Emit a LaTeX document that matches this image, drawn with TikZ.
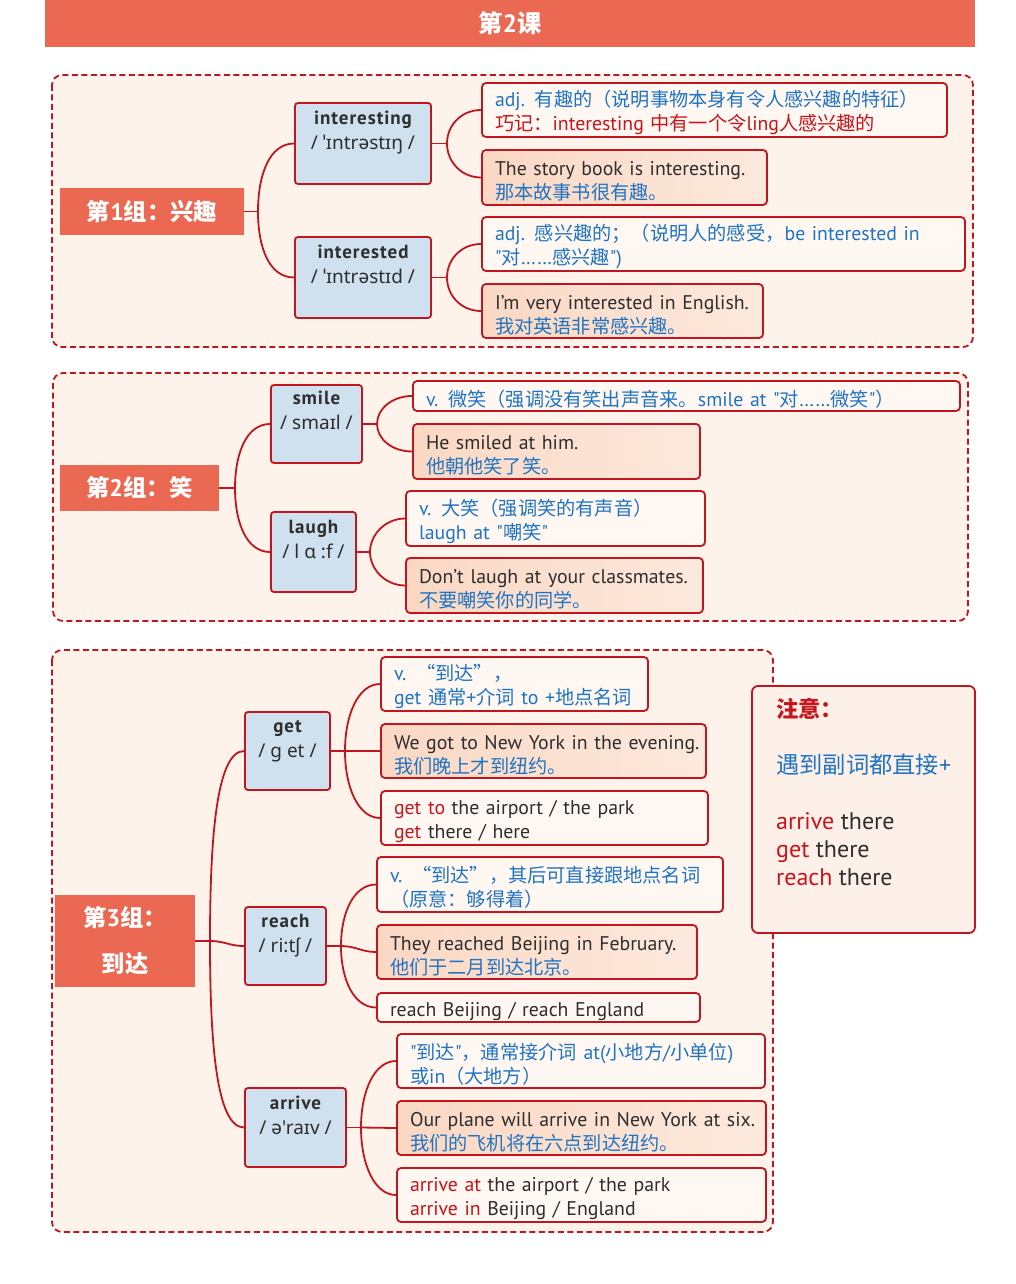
\documentclass[tikz,border=0pt]{standalone}
\usepackage{fontspec}
\setmainfont{PT Sans}
\newfontfamily\latf{PT Sans}
\newfontfamily\latw{PT Sans}[LetterSpace=5]
\newfontfamily\cjkf{Noto Sans CJK SC}[Scale=0.97]
\newfontfamily\ipa{Noto Sans}
\usetikzlibrary{calc}
\newcount\mycc
\newcommand\setcls[2]{\mycc=#1\relax\loop\XeTeXcharclass\mycc=7\relax\advance\mycc by 1\relax\ifnum\mycc<#2\relax\repeat}
\setcls{"4E00}{"A000}
\setcls{"3000}{"3040}
\setcls{"FF00}{"FFF0}
\XeTeXcharclass"201C=7
\XeTeXcharclass"201D=7
\XeTeXinterchartoks 0 7 = {\cjkf}
\XeTeXinterchartoks 4095 7 = {\cjkf}
\XeTeXinterchartoks 7 0 = {\latf}
\XeTeXinterchartoks 4095 0 = {\latf}
\newcommand\ipl[1]{{\XeTeXinterchartokenstate=0 \ipa #1}}
\newcommand\wrd[1]{{\XeTeXinterchartokenstate=0 \latw\bfseries #1}}
\definecolor{bred}{HTML}{C0161F}
\definecolor{tblue}{HTML}{1F74C4}
\definecolor{tred}{HTML}{C8141C}
\definecolor{tdark}{HTML}{2E2E2E}
\definecolor{salmon}{HTML}{EB6852}
\definecolor{cream}{HTML}{FDF3EB}
\definecolor{notefill}{HTML}{FDF0E8}
\definecolor{wfill}{HTML}{CFE0EE}
\definecolor{dfill}{HTML}{FFF7F1}
\definecolor{peachL}{HTML}{FAD8C3}
\definecolor{peachR}{HTML}{FCE9DD}
\newcommand\myred[1]{\textcolor{tred}{#1}}
\newcommand\mydark[1]{\textcolor{tdark}{#1}}
\newcommand\Lx[1]{\mbox{#1}}
\begin{document}
\XeTeXinterchartokenstate=1
\begin{tikzpicture}[x=1pt,y=-1pt,
  grp/.style={draw=bred,line width=1.8pt,dash pattern=on 6pt off 3.5pt,fill=cream,rounded corners=10pt},
  lab/.style={fill=salmon,text=white,font=\fontsize{24}{30}\selectfont\bfseries,inner sep=0pt,align=center},
  wbox/.style={draw=bred,line width=1.8pt,fill=wfill,rounded corners=3pt,inner sep=0pt},
  wtxt/.style={text=tdark,font=\fontsize{19}{25}\selectfont,align=center,inner sep=0pt,anchor=north},
  dbox/.style={draw=bred,line width=1.8pt,fill=dfill,rounded corners=4pt,inner xsep=13pt,inner ysep=0pt,align=left,font=\fontsize{19.8}{24}\selectfont,text=tblue,execute at begin node={\rule{0pt}{22pt}}},
  pbox/.style={dbox,left color=peachL,right color=peachR},
  conn/.style={draw=bred,line width=1.8pt}]
\useasboundingbox (0,0) rectangle (1016,1284);
\fill[white] (0,0) rectangle (1016,1284);

% title
\node[lab,font=\fontsize{25}{30}\selectfont\bfseries,minimum width=930pt,minimum height=47pt] (title) at (510,23.5) {第2课};

% ---------- group 1 ----------
\draw[grp] (52,75) rectangle (973,347);
\node[lab,minimum width=184pt,minimum height=47pt] (lab1) at (152,211.5) {第1组：兴趣};
\node[wbox,minimum width=136pt,minimum height=81pt] (w1) at (363,143.5) {};
\node[wtxt] (w1t) at (363,111) {\wrd{interesting}\\\ipl{/ ˈɪntrəstɪŋ /}};
\node[wbox,minimum width=136pt,minimum height=81pt] (w2) at (363,277.5) {};
\node[wtxt] (w2t) at (363,245) {\wrd{interested}\\\ipl{/ ˈɪntrəstɪd /}};
\node[dbox,text width=439pt,minimum height=54pt] (d1) at (714.5,110) {\Lx{adj. 有趣的（说明事物本身有令人感兴趣的特征）}\\\Lx{\myred{巧记：interesting 中有一个令ling人感兴趣的}}};
\node[pbox,text width=259pt,minimum height=55pt] (d2) at (624.5,177.5) {\Lx{\mydark{The story book is interesting.}}\\\Lx{那本故事书很有趣。}};
\node[dbox,text width=457pt,minimum height=54pt] (d3) at (723.5,244) {\Lx{adj. 感兴趣的；（说明人的感受，be interested in}\\\Lx{"对……感兴趣")}};
\node[pbox,text width=255pt,minimum height=54pt] (d4) at (622.5,311) {\Lx{\mydark{I’m very interested in English.}}\\\Lx{我对英语非常感兴趣。}};
\coordinate (j1) at (258,211.5);
\coordinate (ja) at (447,143.5);
\coordinate (jb) at (447,277.5);
\draw[conn] (lab1.east) -- (j1);
\draw[conn] (j1) .. controls +(0,-36) and +(-25,0) .. (w1.west);
\draw[conn] (j1) .. controls +(0,36) and +(-25,0) .. (w2.west);
\draw[conn] (w1.east) -- (ja);
\draw[conn] (ja) .. controls +(0,-18) and +(-20,0) .. (d1.west);
\draw[conn] (ja) .. controls +(0,18) and +(-20,0) .. (d2.west);
\draw[conn] (w2.east) -- (jb);
\draw[conn] (jb) .. controls +(0,-18) and +(-20,0) .. (d3.west);
\draw[conn] (jb) .. controls +(0,18) and +(-20,0) .. (d4.west);

% ---------- group 2 ----------
\draw[grp] (53,373) rectangle (968,621);
\node[lab,minimum width=159pt,minimum height=46pt] (lab2) at (139.5,488) {第2组：笑};
\node[wbox,minimum width=91pt,minimum height=78pt] (s) at (316.5,424) {};
\node[wtxt] (st) at (316.5,391) {\wrd{smile}\\\ipl{/ smaɪl /}};
\node[wbox,minimum width=85pt,minimum height=80pt] (l) at (313.5,552) {};
\node[wtxt] (lt) at (313.5,520) {\wrd{laugh}\\\ipl{/ l ɑ :f /}};
\node[dbox,text width=521pt,minimum height=30pt] (ds1) at (686.5,396) {\Lx{v. 微笑（强调没有笑出声音来。smile at "对……微笑"）}};
\node[pbox,text width=261pt,minimum height=55pt] (ds2) at (556.5,451.5) {\Lx{\mydark{He smiled at him.}}\\\Lx{他朝他笑了笑。}};
\node[dbox,text width=273pt,minimum height=55pt] (dl1) at (555.5,518.5) {\Lx{v. 大笑（强调笑的有声音）}\\\Lx{laugh at "嘲笑"}};
\node[pbox,text width=271pt,minimum height=55pt] (dl2) at (554.5,585.5) {\Lx{\mydark{Don’t laugh at your classmates.}}\\\Lx{不要嘲笑你的同学。}};
\coordinate (j2) at (235,488);
\coordinate (jc) at (377,424);
\coordinate (jd) at (370,552);
\draw[conn] (lab2.east) -- (j2);
\draw[conn] (j2) .. controls +(0,-34) and +(-24,0) .. (s.west);
\draw[conn] (j2) .. controls +(0,34) and +(-24,0) .. (l.west);
\draw[conn] (s.east) -- (jc);
\draw[conn] (jc) .. controls +(0,-15) and +(-20,0) .. (ds1.west);
\draw[conn] (jc) .. controls +(0,15) and +(-20,0) .. (ds2.west);
\draw[conn] (l.east) -- (jd);
\draw[conn] (jd) .. controls +(0,-17) and +(-20,0) .. (dl1.west);
\draw[conn] (jd) .. controls +(0,17) and +(-20,0) .. (dl2.west);

% ---------- group 3 ----------
\draw[grp] (52,650) rectangle (773,1232);
\node[lab,minimum width=140pt,minimum height=92pt] (lab3) at (125,941) {第3组：\\[16pt]到达};
\node[wbox,minimum width=85pt,minimum height=78pt] (g) at (287.5,751) {};
\node[wtxt] (gt) at (287.5,720) {\wrd{get}\\\ipl{/ ɡ et /}};
\node[wbox,minimum width=81pt,minimum height=78pt] (r) at (285.5,946) {};
\node[wtxt] (rt) at (285.5,914) {\wrd{reach}\\\ipl{/ ri:tʃ /}};
\node[wbox,minimum width=101pt,minimum height=79pt] (a) at (295.5,1127.5) {};
\node[wtxt] (at) at (295.5,1096) {\wrd{arrive}\\\ipl{/ ə'raɪv /}};
\node[dbox,text width=241pt,minimum height=54pt] (dg1) at (514.5,684) {\Lx{v. “到达”，}\\\Lx{get 通常+介词 to +地点名词}};
\node[pbox,text width=299pt,minimum height=54pt] (dg2) at (543.5,751) {\Lx{\mydark{We got to New York in the evening.}}\\\Lx{我们晚上才到纽约。}};
\node[dbox,text width=301pt,minimum height=54pt,text=tdark] (dg3) at (544.5,818) {\Lx{\myred{get to} the airport / the park}\\\Lx{\myred{get} there / here}};
\node[dbox,text width=320pt,minimum height=55pt] (dr1) at (550,884.5) {\Lx{v. “到达”，其后可直接跟地点名词}\\\Lx{（原意：够得着）}};
\node[pbox,text width=294pt,minimum height=54pt] (dr2) at (537,952) {\Lx{\mydark{They reached Beijing in February.}}\\\Lx{他们于二月到达北京。}};
\node[dbox,text width=297pt,minimum height=29pt,text=tdark] (dr3) at (538.5,1007.5) {\Lx{reach Beijing / reach England}};
\node[dbox,text width=342pt,minimum height=54pt] (da1) at (581,1061) {\Lx{"到达"，通常接介词 at(小地方/小单位)}\\\Lx{或in（大地方）}};
\node[pbox,text width=343pt,minimum height=54pt] (da2) at (581.5,1128) {\Lx{\mydark{Our plane will arrive in New York at six.}}\\\Lx{我们的飞机将在六点到达纽约。}};
\node[dbox,text width=343pt,minimum height=54pt,text=tdark] (da3) at (581.5,1195) {\Lx{\myred{arrive at} the airport / the park}\\\Lx{\myred{arrive in} Beijing / England}};
\coordinate (j3) at (210,941);
\coordinate (je) at (345,751);
\coordinate (jf) at (341,946);
\coordinate (jg) at (361,1127.5);
\draw[conn] (lab3.east) -- (j3);
\draw[conn] (j3) .. controls +(0,-100) and +(-28,0) .. (g.west);
\draw[conn] (j3) .. controls +(15,0) and +(-15,0) .. (r.west);
\draw[conn] (j3) .. controls +(0,100) and +(-28,0) .. (a.west);
\draw[conn] (g.east) -- (je);
\draw[conn] (je) .. controls +(0,-36) and +(-22,0) .. (dg1.west);
\draw[conn] (je) -- (dg2.west);
\draw[conn] (je) .. controls +(0,36) and +(-22,0) .. (dg3.west);
\draw[conn] (r.east) -- (jf);
\draw[conn] (jf) .. controls +(0,-34) and +(-22,0) .. (dr1.west);
\draw[conn] (jf) .. controls +(15,0) and +(-15,0) .. (dr2.west);
\draw[conn] (jf) .. controls +(0,34) and +(-22,0) .. (dr3.west);
\draw[conn] (a.east) -- (jg);
\draw[conn] (jg) .. controls +(0,-36) and +(-22,0) .. (da1.west);
\draw[conn] (jg) -- (da2.west);
\draw[conn] (jg) .. controls +(0,36) and +(-22,0) .. (da3.west);

% note
\node[draw=bred,line width=1.8pt,fill=notefill,rounded corners=6pt,minimum width=223pt,minimum height=247pt,inner sep=0pt] (note) at (863.5,809.5) {};
\node[anchor=north west,align=left,inner sep=0pt,font=\fontsize{24}{28}\selectfont,text=tdark] (notet) at (776,698) {{\color{tred}\bfseries\fontsize{23}{28}\selectfont 注意：}\\\mbox{}\\{\color{tblue}\fontsize{24}{28}\selectfont 遇到副词都直接+}\\\mbox{}\\\myred{arrive} there\\\myred{get} there\\\myred{reach} there};
\end{tikzpicture}
\end{document}
